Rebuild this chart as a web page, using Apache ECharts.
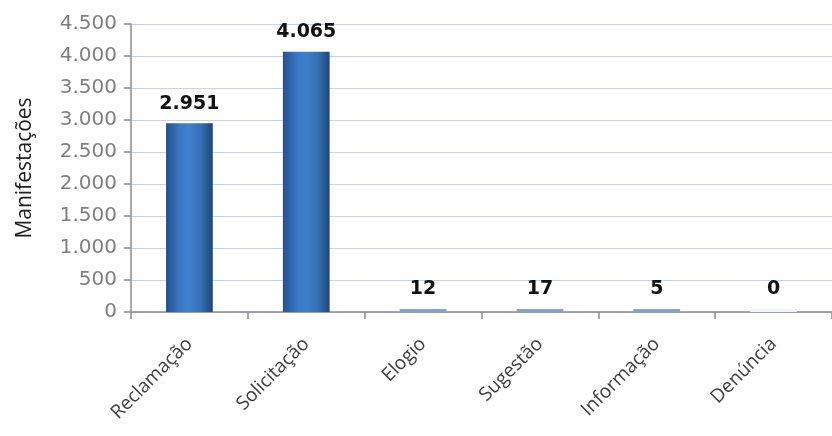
<!DOCTYPE html>
<html><head><meta charset="utf-8">
<script src="https://cdn.jsdelivr.net/npm/echarts@6/dist/echarts.min.js"></script>
<style>html,body{margin:0;padding:0;background:#fff}#c{width:832px;height:436px}</style>
</head><body><div id="c"></div>
<script>
const categories = ['Reclamação','Solicitação','Elogio','Sugestão','Informação','Denúncia'];
const values = [2951, 4065, 12, 17, 5, 0];
const yTicks = {min: 0, max: 4500, interval: 500};
const yName = 'Manifestações';

function fmt(v){ return String(v).replace(/\B(?=(\d{3})+(?!\d))/g, '.'); }

const bigColor = new echarts.graphic.LinearGradient(0, 0, 1, 0, [
  {offset: 0, color: '#25508c'},
  {offset: 0.3, color: '#3a78c4'},
  {offset: 0.5, color: '#3f80cc'},
  {offset: 0.75, color: '#3670b5'},
  {offset: 1, color: '#1f4478'}
]);

const chart = echarts.init(document.getElementById('c'));
chart.setOption({
  animation: false,
  grid: {left: 131, top: 24, bottom: 124, right: -9, containLabel: false},
  xAxis: {
    type: 'category', data: categories,
    axisLine: {lineStyle: {color: '#8c8c8c', width: 1.5}},
    axisTick: {show: true, length: 7, lineStyle: {color: '#8c8c8c', width: 1.5}},
    axisLabel: {rotate: 45, color: '#404040', fontSize: 19, fontFamily: 'Open Sans, sans-serif', margin: 29, interval: 0}
  },
  yAxis: {
    type: 'value', min: yTicks.min, max: yTicks.max, interval: yTicks.interval,
    name: yName, nameLocation: 'middle', nameGap: 95, nameRotate: 90,
    nameTextStyle: {color: '#202020', fontSize: 21, fontFamily: 'Open Sans, sans-serif'},
    axisLine: {show: true, lineStyle: {color: '#8c8c8c', width: 1.5}},
    axisTick: {show: true, length: 7, lineStyle: {color: '#8c8c8c', width: 1.5}},
    axisLabel: {color: '#808080', fontSize: 20, fontFamily: 'DejaVu Sans, sans-serif', margin: 14, formatter: fmt},
    splitLine: {lineStyle: {color: '#c6d2ee', width: 1.2}}
  },
  series: [{
    type: 'bar', barWidth: '40%', barMinHeight: 3,
    data: values.map(v => ({
      value: v,
      itemStyle: v === 0 ? {color: '#f2f4f8'} : (v < 100 ? {color: '#7fa3d6'} : {color: bigColor})
    })),
    label: {show: true, position: 'top', distance: 10, color: '#111', fontWeight: 'bold', fontSize: 19, fontFamily: 'DejaVu Sans, sans-serif', formatter: p => fmt(p.value)}
  }]
});
</script></body></html>
